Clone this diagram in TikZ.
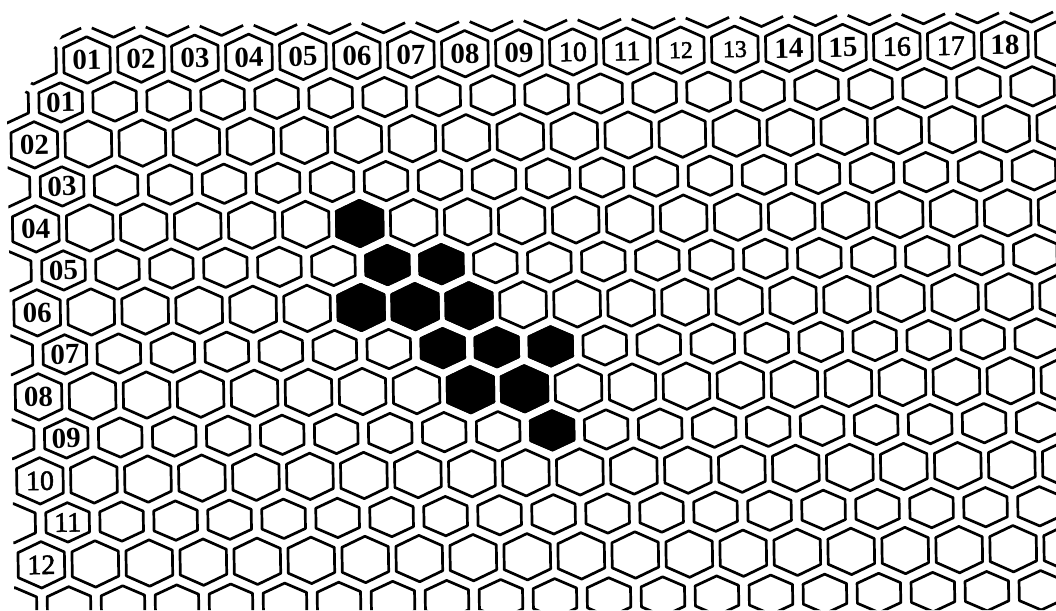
\documentclass[tikz,border=0pt]{standalone}
\usepackage{fontspec}
\setmainfont{Liberation Serif}
\newfontfamily\labfont[FakeBold=1.8]{Liberation Serif}
\newcommand\hexeven[3]{\path[#1] (#2,#3-23.2) -- (#2+23.2,#3-12.5) -- (#2+23.2,#3+12.5) -- (#2,#3+23.2) -- (#2-23.2,#3+12.5) -- (#2-23.2,#3-12.5) -- cycle;}
\newcommand\hexodd[3]{\path[#1] (#2,#3-19.7) -- (#2+21.7,#3-10) -- (#2+21.7,#3+10) -- (#2,#3+19.7) -- (#2-21.7,#3+10) -- (#2-21.7,#3-10) -- cycle;}
\begin{document}
\begin{tikzpicture}[x=1pt,y=-1pt,
  hexline/.style={draw=black, line width=2.7pt, line join=round},
  darkhex/.style={hexline, fill=black},
  labb/.style={font=\fontsize{29}{29}\selectfont\bfseries, inner sep=0pt, rotate=0.95},
  labr/.style={font=\labfont\fontsize{28}{28}\selectfont, inner sep=0pt, rotate=0.95}]
\useasboundingbox (0,0) rectangle (1056,610);
\fill[white] (0,0) rectangle (1056,610);
\begin{scope}
\clip (85,0) -- (1056,0) -- (1056,610) -- (14.5,610) -- (7,120) -- cycle;
\begin{scope}[shift={(33,60.9)}, rotate=0.95]
  % partial row above the labels: only lower edges
  \foreach \j in {-1,...,18} {
    \pgfmathsetmacro\cx{54*\j+27}
    \draw[hexline] (\cx-21.7,-32) -- (\cx,-22.3) -- (\cx+21.7,-32);
  }
  % even rows
  \foreach \r in {0,2,...,12} {
    \foreach \k in {-1,...,19} {
      \pgfmathsetmacro\cx{54*\k}
      \pgfmathsetmacro\cy{42*\r}
      \hexeven{hexline}{\cx}{\cy}
    }
  }
  % odd rows
  \foreach \r in {1,3,...,13} {
    \foreach \j in {-1,...,18} {
      \pgfmathsetmacro\cx{54*\j+27}
      \pgfmathsetmacro\cy{42*\r}
      \hexodd{hexline}{\cx}{\cy}
    }
  }
  % filled cells
  \foreach \r/\k in {4/6, 6/6, 6/7, 6/8, 8/8, 8/9} {
    \pgfmathsetmacro\cx{54*\k}
    \pgfmathsetmacro\cy{42*\r}
    \hexeven{darkhex}{\cx}{\cy}
  }
  \foreach \r/\j in {5/6, 5/7, 7/7, 7/8, 7/9, 9/9} {
    \pgfmathsetmacro\cx{54*\j+27}
    \pgfmathsetmacro\cy{42*\r}
    \hexodd{darkhex}{\cx}{\cy}
  }
  % column labels
  \foreach \k/\t in {1/01,2/02,3/03,4/04,5/05,6/06,7/07,8/08,9/09,14/14,15/15,18/18} {
    \node[labb] (c\k) at (54*\k,0) {\t};
  }
  \foreach \k/\t in {10/10,11/11,16/16,17/17} {
    \node[labr] (c\k) at (54*\k,0) {\t};
  }
  \foreach \k/\t in {12/12,13/13} {
    \node[labr, font=\labfont\fontsize{24}{24}\selectfont] (c\k) at (54*\k,0) {\t};
  }
  % row labels
  \foreach \r/\t in {2/02,4/04,6/06,8/08} {
    \node[labb] (r\r) at (0,42*\r) {\t};
  }
  \foreach \r/\t in {1/01,3/03,5/05,7/07,9/09} {
    \node[labb] (r\r) at (27,42*\r) {\t};
  }
  \node[labr] (r10) at (0,420) {10};
  \node[labr] (r11) at (27,462) {11};
  \node[labr] (r12) at (0,504) {12};
\end{scope}
\end{scope}
\end{tikzpicture}
\end{document}
